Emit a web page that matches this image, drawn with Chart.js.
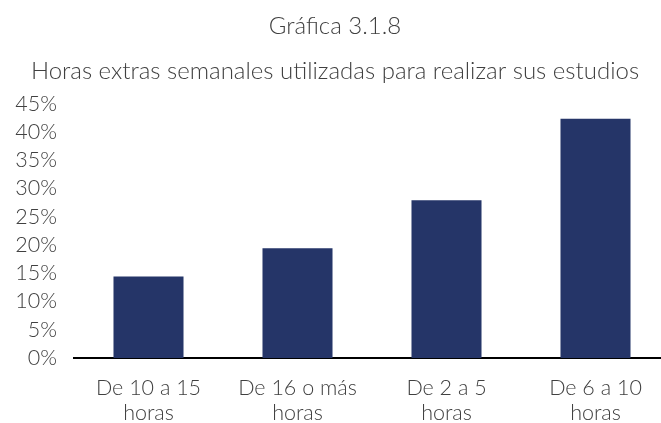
<!DOCTYPE html>
<html lang="es">
  <head>
    <meta charset="UTF-8" />
    <script src="https://cdn.jsdelivr.net/npm/chart.js"></script>
    <title>Gráfica 3.1.8</title>
    <style>
      html, body { margin: 0; padding: 0; background: #fff; overflow: hidden; }
      /* the x axis runs past the right edge in the original, so the canvas is a bit wider than the view */
      #wrap { width: 661px; height: 423px; overflow: hidden; }
    </style>
  </head>
  <body>
    <div id="wrap"><canvas id="chart" width="670" height="423"></canvas></div>
    <script>
      // data
      const categories = [
        ["De 10 a 15", "horas"],
        ["De 16 o más", "horas"],
        ["De 2 a 5", "horas"],
        ["De 6 a 10", "horas"],
      ];
      const values = [14.4, 19.4, 27.9, 42.3];
      const chartTitle = "Gráfica 3.1.8";
      const chartSubtitle = "Horas extras semanales utilizadas para realizar sus estudios";

      const textColor = "#404040";
      const fontFamily = "Lato, 'Open Sans', sans-serif";

      const ctx = document.getElementById("chart").getContext("2d");
      new Chart(ctx, {
        type: "bar",
        data: {
          labels: categories,
          datasets: [
            {
              data: values,
              backgroundColor: "#253568",
              barPercentage: 0.47,
              categoryPercentage: 1,
            },
          ],
        },
        options: {
          responsive: false,
          animation: false,
          layout: { padding: 0 },
          plugins: {
            legend: { display: false },
            tooltip: { enabled: false },
            title: {
              display: true,
              text: chartTitle,
              color: textColor,
              font: { family: fontFamily, size: 24, weight: "300" },
              padding: { top: 12, bottom: 9 },
            },
            subtitle: {
              display: true,
              text: chartSubtitle,
              color: textColor,
              font: { family: fontFamily, size: 24, weight: "300" },
              padding: { top: 7, bottom: 18 },
            },
          },
          scales: {
            x: {
              grid: { display: false, drawTicks: false },
              border: { display: true, color: "#000", width: 2 },
              ticks: {
                color: textColor,
                font: { family: fontFamily, size: 21.5, weight: "300", lineHeight: 1.15 },
                padding: 18,
                maxRotation: 0,
              },
              afterFit: (scale) => { scale.height = 65; },
            },
            y: {
              min: 0,
              max: 45,
              grid: { display: false, drawTicks: false },
              border: { display: false },
              ticks: {
                stepSize: 5,
                autoSkip: false,
                color: textColor,
                font: { family: fontFamily, size: 21.5, weight: "300" },
                padding: 17,
                callback: (v) => v + "%",
              },
              afterFit: (scale) => { scale.width = 74; },
            },
          },
        },
      });
    </script>
  </body>
</html>
